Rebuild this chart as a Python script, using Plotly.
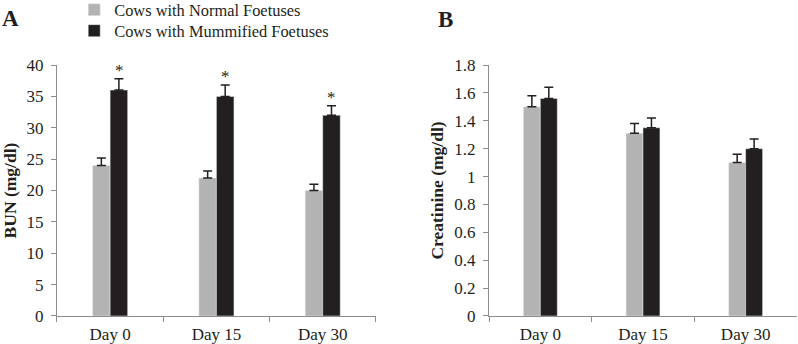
import plotly.graph_objects as go

days = ["Day 0", "Day 15", "Day 30"]
bun_normal = [24, 22, 20]
bun_normal_err = [1.2, 1.1, 1.0]
bun_mumm = [36, 35, 32]
bun_mumm_err = [1.8, 1.8, 1.5]
crea_normal = [1.5, 1.31, 1.1]
crea_normal_err = [0.08, 0.07, 0.06]
crea_mumm = [1.56, 1.35, 1.2]
crea_mumm_err = [0.08, 0.07, 0.07]
sig_marks = ["*", "*", "*"]

GRAY = "#b3b3b3"
BLACK = "#231f20"
FONT = "Liberation Serif, Times New Roman, serif"

def ebar(err):
    return dict(type="data", array=err, arrayminus=[0] * len(err), symmetric=False,
                color=BLACK, thickness=1.5, width=4.5)

fig = go.Figure()
fig.add_trace(go.Bar(x=days, y=bun_normal, name="Cows with Normal Foetuses", marker_color=GRAY,
                     error_y=ebar(bun_normal_err), xaxis="x", yaxis="y", legend="legend"))
fig.add_trace(go.Bar(x=days, y=bun_mumm, name="Cows with Mummified Foetuses", marker_color=BLACK,
                     error_y=ebar(bun_mumm_err), xaxis="x", yaxis="y", legend="legend2"))
fig.add_trace(go.Bar(x=days, y=crea_normal, name="Cows with Normal Foetuses", marker_color=GRAY,
                     error_y=ebar(crea_normal_err), xaxis="x2", yaxis="y2", showlegend=False))
fig.add_trace(go.Bar(x=days, y=crea_mumm, name="Cows with Mummified Foetuses", marker_color=BLACK,
                     error_y=ebar(crea_mumm_err), xaxis="x2", yaxis="y2", showlegend=False))

for d, v, e, s in zip(days, bun_mumm, bun_mumm_err, sig_marks):
    fig.add_annotation(x=d, y=v + e, xref="x", yref="y", text=s, showarrow=False,
                       xshift=9, yanchor="bottom", yshift=-3, font=dict(size=17, color=BLACK, family=FONT))

fig.add_annotation(x=0.0, y=0.945, xref="paper", yref="paper", text="<b>A</b>", showarrow=False,
                   xanchor="left", yanchor="middle", font=dict(size=23, color=BLACK, family=FONT))
fig.add_annotation(x=0.546, y=0.943, xref="paper", yref="paper", text="<b>B</b>", showarrow=False,
                   xanchor="left", yanchor="middle", font=dict(size=23, color=BLACK, family=FONT))

axis_common = dict(showline=True, linecolor="#8c8c8c", linewidth=1, showgrid=False, zeroline=False,
                   ticks="outside", tickcolor="#8c8c8c", ticklen=5, automargin=False,
                   tickfont=dict(size=17, color=BLACK, family=FONT))
ydom = [0.0814, 0.811]
legend_common = dict(xanchor="left", yanchor="middle", orientation="v",
                     font=dict(size=16.4, family=FONT, color=BLACK), bgcolor="rgba(0,0,0,0)")
fig.update_layout(
    width=798, height=344,
    margin=dict(l=0, r=0, t=0, b=0, autoexpand=False),
    paper_bgcolor="white", plot_bgcolor="white",
    barmode="group", bargap=0.67, bargroupgap=0,
    font=dict(family=FONT, color=BLACK),
    xaxis=dict(domain=[0.0714, 0.471], anchor="y", tickson="boundaries", ticklabelstandoff=3, **axis_common),
    yaxis=dict(domain=ydom, anchor="x", range=[0, 40], dtick=5, ticklabelstandoff=4,
               title=dict(text="<b>BUN (mg/dl)</b>", font=dict(size=17.5, family=FONT, color=BLACK), standoff=5),
               **axis_common),
    xaxis2=dict(domain=[0.6128, 0.9987], anchor="y2", tickson="boundaries", ticklabelstandoff=3, **axis_common),
    yaxis2=dict(domain=ydom, anchor="x2", range=[0, 1.8], dtick=0.2, ticklabelstandoff=4,
                title=dict(text="<b>Creatinine (mg/dl)</b>", font=dict(size=17.5, family=FONT, color=BLACK), standoff=6),
                **axis_common),
    legend=dict(x=0.093, y=1 - 10 / 344, **legend_common),
    legend2=dict(x=0.093, y=1 - 31 / 344, **legend_common),
    showlegend=True,
)

fig.write_html("out.html", config={"displayModeBar": False},
               post_script="document.body.style.margin='0';document.body.style.overflow='hidden';")
